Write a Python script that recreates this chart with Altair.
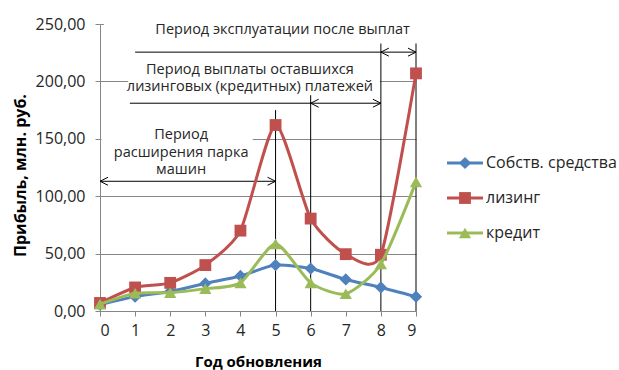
import altair as alt
import pandas as pd

# ---- series values (profit, mln rub.) by year of renewal ----
years = list(range(10))
own_funds = [5.5, 12.5, 17, 24, 30.5, 40, 37, 27.5, 20.5, 12.5]
leasing = [7, 20.5, 24.5, 40, 70, 162, 80.5, 49.5, 49, 207]
credit = [6, 15.5, 16, 19.5, 24.5, 58.5, 24.5, 15, 41, 112.5]

series_names = ["Собств. средства", "лизинг", "кредит"]
series_values = [own_funds, leasing, credit]
series_colors = ["#4F81BD", "#C0504D", "#9BBB59"]
series_shapes = ["diamond", "square", "triangle-up"]
series_sizes = [150, 140, 150]

y_ticks = [0, 50, 100, 150, 200, 250]
x_ticks = years

# ---- period annotations ----
guide_x = [5, 6, 8, 9]            # vertical guide lines
guide_top = [175, 188, 233, 233]

span_start = [1.0, 0.85]          # plain leader lines
span_end = [8, 6]
span_level = [225.5, 181]

arrow_from = [8, 6, 0]            # double-headed arrows
arrow_to = [9, 8, 5]
arrow_level = [225.5, 181, 113]

# caption blocks, anchored at their first line
note_blocks = [
    "Период эксплуатации после выплат",
    "Период выплаты оставшихся\nлизинговых (кредитных) платежей",
    "Период\nрасширения парка\nмашин",
]
note_x = [5.2, 4.27, 2.31]
note_y = [244.5, 210, 153]

# white backing boxes of the text blocks
box_x0 = [0.11, 0.8, 0.04]
box_x1 = [9.1, 7.97, 4.35]
box_y0 = [234, 187.5, 116]
box_y1 = [258, 220, 163]

FONT = "Open Sans"
TEXT_COLOR = "#262626"
GRID = "#868686"

x_scale = alt.Scale(domain=[0, 9], nice=False, zero=False)
y_scale = alt.Scale(domain=[0, 250], nice=False)

x_axis = alt.Axis(
    values=x_ticks, format="d", grid=False, title="Год обновления",
    labelFontSize=16, labelColor=TEXT_COLOR, labelFont=FONT, labelPadding=6,
    titleFontSize=15, titleFont=FONT, titleColor="#000000", titleFontWeight="bold",
    titlePadding=16, tickSize=5, tickColor=GRID, domainColor=GRID,
)
y_axis = alt.Axis(
    values=y_ticks, grid=True, gridColor=GRID, gridWidth=1,
    labelExpr="replace(format(datum.value, '.2f'), '.', ',')",
    title="Прибыль, млн. руб.",
    labelFontSize=16, labelColor=TEXT_COLOR, labelFont=FONT, labelPadding=10,
    titleFontSize=16, titleFont=FONT, titleColor="#000000", titleFontWeight="bold",
    titlePadding=7, titleY=151, tickSize=5, tickColor=GRID, domainColor=GRID,
)


def X(field):
    return alt.X(field, type="quantitative", scale=x_scale, axis=x_axis)


def Y(field):
    return alt.Y(field, type="quantitative", scale=y_scale, axis=y_axis)


layers = []

# text backing boxes (hide the grid behind the captions)
boxes = pd.DataFrame({"x0": box_x0, "x1": box_x1, "y0": box_y0, "y1": box_y1})
layers.append(
    alt.Chart(boxes).mark_rect(fill="white", stroke=None).encode(
        x=X("x0"), x2="x1", y=Y("y0"), y2="y1"
    )
)

# vertical guides
guides = pd.DataFrame({"x": guide_x, "y0": [0] * len(guide_x), "y1": guide_top})
layers.append(
    alt.Chart(guides).mark_rule(color="#000000", strokeWidth=1).encode(
        x=X("x"), y=Y("y0"), y2="y1"
    )
)

# leader lines
spans = pd.DataFrame({"x0": span_start, "x1": span_end, "y": span_level})
layers.append(
    alt.Chart(spans).mark_rule(color="#000000", strokeWidth=1).encode(
        x=X("x0"), x2="x1", y=Y("y")
    )
)

# arrows with open heads on both ends
arrows = pd.DataFrame({"x0": arrow_from, "x1": arrow_to, "y": arrow_level})
layers.append(
    alt.Chart(arrows).mark_rule(color="#000000", strokeWidth=1).encode(
        x=X("x0"), x2="x1", y=Y("y")
    )
)
layers.append(
    alt.Chart(arrows).mark_point(
        shape="M 1 -0.5 L 0 0 L 1 0.5", filled=False, size=256,
        stroke="#000000", strokeWidth=1, opacity=1,
    ).encode(x=X("x0"), y=Y("y"))
)
layers.append(
    alt.Chart(arrows).mark_point(
        shape="M -1 -0.5 L 0 0 L -1 0.5", filled=False, size=256,
        stroke="#000000", strokeWidth=1, opacity=1,
    ).encode(x=X("x1"), y=Y("y"))
)

# captions (multi-line blocks)
notes = pd.DataFrame({"text": note_blocks, "x": note_x, "y": note_y})
layers.append(
    alt.Chart(notes).mark_text(
        font=FONT, fontSize=14.5, color=TEXT_COLOR, align="center",
        baseline="middle", lineBreak="\n", lineHeight=17.5
    ).encode(x=X("x"), y=Y("y"), text="text:N")
)

# data series: smoothed line plus markers, series by series
for name, vals, col, shp, sz in zip(series_names, series_values, series_colors,
                                    series_shapes, series_sizes):
    d = pd.DataFrame({"year": years, "value": vals})
    layers.append(
        alt.Chart(d).mark_line(
            interpolate="cardinal", tension=0.35, color=col, strokeWidth=3
        ).encode(x=X("year"), y=Y("value"))
    )
    layers.append(
        alt.Chart(d).mark_point(
            shape=shp, filled=True, color=col, size=sz, opacity=1
        ).encode(x=X("year"), y=Y("value"))
    )

# legend drawn to the right of the plot
leg_one = pd.DataFrame({"k": [0]})
for i, (name, col, shp, sz) in enumerate(zip(series_names, series_colors,
                                             series_shapes, series_sizes)):
    ly = 139 + 35 * i
    layers.append(
        alt.Chart(leg_one).mark_rule(color=col, strokeWidth=3).encode(
            x=alt.value(347), x2=alt.value(383), y=alt.value(ly)
        )
    )
    layers.append(
        alt.Chart(leg_one).mark_point(
            shape=shp, filled=True, color=col, size=sz, opacity=1
        ).encode(x=alt.value(365), y=alt.value(ly))
    )
    layers.append(
        alt.Chart(leg_one).mark_text(
            text=name, font=FONT, fontSize=16, color=TEXT_COLOR,
            align="left", baseline="middle"
        ).encode(x=alt.value(386), y=alt.value(ly))
    )

chart = alt.layer(*layers).properties(
    width=316,
    height=287,
    autosize=alt.AutoSizeParams(type="none"),
    padding={"left": 100, "top": 24, "right": 203, "bottom": 59},
    background="white",
).configure_view(stroke=None)

chart.save("out.html", embed_options={"renderer": "svg", "actions": False})
